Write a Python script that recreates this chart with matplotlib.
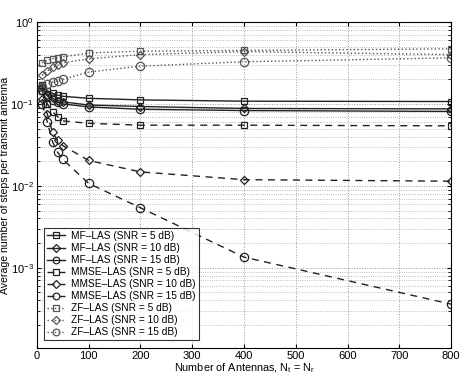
import matplotlib
matplotlib.use("Agg")
import matplotlib.pyplot as plt
from matplotlib.ticker import LogLocator, NullFormatter

plt.rcParams['font.family'] = ['Liberation Sans', 'DejaVu Sans']

N = [10, 20, 30, 40, 50, 100, 200, 400, 800]

mf_5 = [0.17, 0.145, 0.135, 0.128, 0.124, 0.117, 0.112, 0.108, 0.107]
mf_10 = [0.16, 0.13, 0.118, 0.110, 0.106, 0.097, 0.093, 0.088, 0.087]
mf_15 = [0.15, 0.125, 0.112, 0.105, 0.100, 0.092, 0.086, 0.083, 0.081]
mmse_5 = [0.145, 0.100, 0.080, 0.070, 0.062, 0.058, 0.055, 0.055, 0.054]
mmse_10 = [0.115, 0.075, 0.045, 0.036, 0.031, 0.0204, 0.0148, 0.0119, 0.0114]
mmse_15 = [0.100, 0.060, 0.0345, 0.0257, 0.021, 0.0107, 0.0054, 0.00135, 0.00036]
zf_5 = [0.318, 0.34, 0.357, 0.365, 0.375, 0.419, 0.44, 0.45, 0.47]
zf_10 = [0.223, 0.252, 0.279, 0.295, 0.318, 0.355, 0.40, 0.435, 0.40]
zf_15 = [0.16, 0.174, 0.184, 0.19, 0.20, 0.245, 0.289, 0.327, 0.365]

labels = ["MF\u2013LAS (SNR = 5 dB)", "MF\u2013LAS (SNR = 10 dB)", "MF\u2013LAS (SNR = 15 dB)",
          "MMSE\u2013LAS (SNR = 5 dB)", "MMSE\u2013LAS (SNR = 10 dB)", "MMSE\u2013LAS (SNR = 15 dB)",
          "ZF\u2013LAS (SNR = 5 dB)", "ZF\u2013LAS (SNR = 10 dB)", "ZF\u2013LAS (SNR = 15 dB)"]
series = [mf_5, mf_10, mf_15, mmse_5, mmse_10, mmse_15, zf_5, zf_10, zf_15]
styles = ['-', '-', '-', (0, (5, 4)), (0, (5, 4)), (0, (5, 4)), ':', ':', ':']
markers = ['s', 'D', 'o'] * 3
msizes = [5, 4.5, 6] * 3
colors = ['#222222'] * 6 + ['#555555'] * 3

fig = plt.figure(figsize=(4.64, 3.76), dpi=100)
ax = fig.add_axes([0.0797, 0.0745, 0.8923, 0.867])

for y, lab, ls, mk, ms, c in zip(series, labels, styles, markers, msizes, colors):
    ax.plot(N, y, linestyle=ls, marker=mk, markersize=ms, color=c, lw=1.0,
            markerfacecolor='none', markeredgewidth=0.9, label=lab)

ax.set_yscale('log')
ax.set_xlim(0, 800)
ax.set_ylim(1.05e-4, 1)
ax.set_xticks(range(0, 801, 100))
ax.set_yticks([1e-3, 1e-2, 1e-1, 1e0])
ax.yaxis.set_minor_locator(LogLocator(base=10, subs=range(2, 10), numticks=20))
ax.yaxis.set_minor_formatter(NullFormatter())
ax.grid(True, which='major', linestyle=':', color='#999999', lw=0.7)
ax.grid(True, which='minor', axis='y', linestyle=':', color='#aaaaaa', lw=0.6)
ax.tick_params(labelsize=8, direction='in', which='both', top=True, right=True, length=3, pad=2.5)
ax.tick_params(which='minor', length=2)
for s in ax.spines.values():
    s.set_linewidth(0.8)

ax.set_xlabel("Number of Antennas, N$_\\mathregular{t}$ = N$_\\mathregular{r}$", fontsize=7.8, labelpad=0)
ax.set_ylabel("Average number of steps per transmit antenna", fontsize=7.6, labelpad=0)

leg = ax.legend(loc='lower left', fontsize=7.3, frameon=True, fancybox=False,
                edgecolor='black', handlelength=1.8, labelspacing=0.2,
                borderpad=0.3, handletextpad=0.6, markerscale=0.8,
                bbox_to_anchor=(0.004, 0.008))
leg.get_frame().set_linewidth(0.8)

fig.savefig("out.png", dpi=100)
